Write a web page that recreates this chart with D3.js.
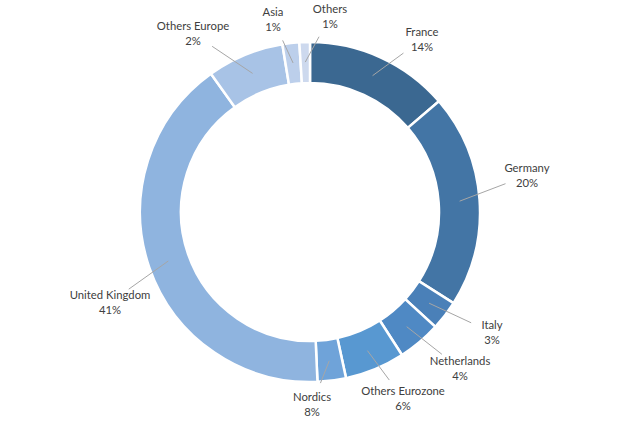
<!DOCTYPE html>
<html>
<head>
<meta charset="utf-8">
<script src="https://cdn.jsdelivr.net/npm/d3@7"></script>
<style>
  body { margin: 0; background: #fff; }
  text { font-family: Lato, "Open Sans", sans-serif; font-size: 11.3px; fill: #404040; }
</style>
</head>
<body>
<svg id="chart" width="620" height="422"></svg>
<script>
// slice sizes as drawn (share of the ring)
var categories = ['France', 'Germany', 'Italy', 'Netherlands', 'Others Eurozone', 'Nordics',
  'United Kingdom', 'Others Europe', 'Asia', 'Others'];
var values = [13.7, 20.3, 2.8, 4.1, 5.7, 2.7, 40.8, 7.3, 1.6, 1.0];
// percentages as printed on the labels
var labels = ['14%', '20%', '3%', '4%', '6%', '8%', '41%', '2%', '1%', '1%'];
var colors = ['#3b6891', '#4375a5', '#4a80b8', '#4f89c4', '#5898d1', '#6fa3d9',
  '#8fb4df', '#a8c3e6', '#bccfeb', '#cdd9ee'];
// center of each label's first line, relative to chart center
var labelPos = [[112, -180], [217, -44], [182, 113], [150, 149], [93, 179], [2, 185],
  [-200, 83], [-117, -186], [-37, -200], [20, -203]];

var svg = d3.select('#chart');
var cx = 310, cy = 212, outerR = 170, innerR = 129;
var g = svg.append('g').attr('transform', 'translate(' + cx + ',' + cy + ')');

var pie = d3.pie().sort(null).value(function(d) { return d; });
var arcs = pie(values);
var arc = d3.arc().innerRadius(innerR).outerRadius(outerR);
var midArc = d3.arc().innerRadius(150).outerRadius(150);

g.selectAll('path.slice')
  .data(arcs)
  .enter().append('path')
  .attr('class', 'slice')
  .attr('d', arc)
  .attr('fill', function(d, i) { return colors[i]; })
  .attr('stroke', '#fff')
  .attr('stroke-width', 2.5);

function leaderEnd(d, i) {
  var p = midArc.centroid(d), l = [labelPos[i][0], labelPos[i][1] + 7.5];
  var dx = l[0] - p[0], dy = l[1] - p[1], len = Math.sqrt(dx * dx + dy * dy);
  return [p[0] + dx * (len - 23) / len, p[1] + dy * (len - 23) / len];
}

// leader lines from ring middle to label
g.selectAll('line.leader')
  .data(arcs)
  .enter().append('line')
  .attr('class', 'leader')
  .attr('x1', function(d) { return midArc.centroid(d)[0]; })
  .attr('y1', function(d) { return midArc.centroid(d)[1]; })
  .attr('x2', function(d, i) { return leaderEnd(d, i)[0]; })
  .attr('y2', function(d, i) { return leaderEnd(d, i)[1]; })
  .attr('stroke', '#a6a6a6')
  .attr('stroke-width', 1);

var lbl = g.selectAll('text.lbl')
  .data(arcs)
  .enter().append('text')
  .attr('class', 'lbl')
  .attr('text-anchor', 'middle')
  .attr('transform', function(d, i) { return 'translate(' + labelPos[i][0] + ',' + labelPos[i][1] + ')'; });
lbl.append('tspan').attr('x', 0).attr('y', 4).text(function(d, i) { return categories[i]; });
lbl.append('tspan').attr('x', 0).attr('y', 19).text(function(d, i) { return labels[i]; });
</script>
</body>
</html>
